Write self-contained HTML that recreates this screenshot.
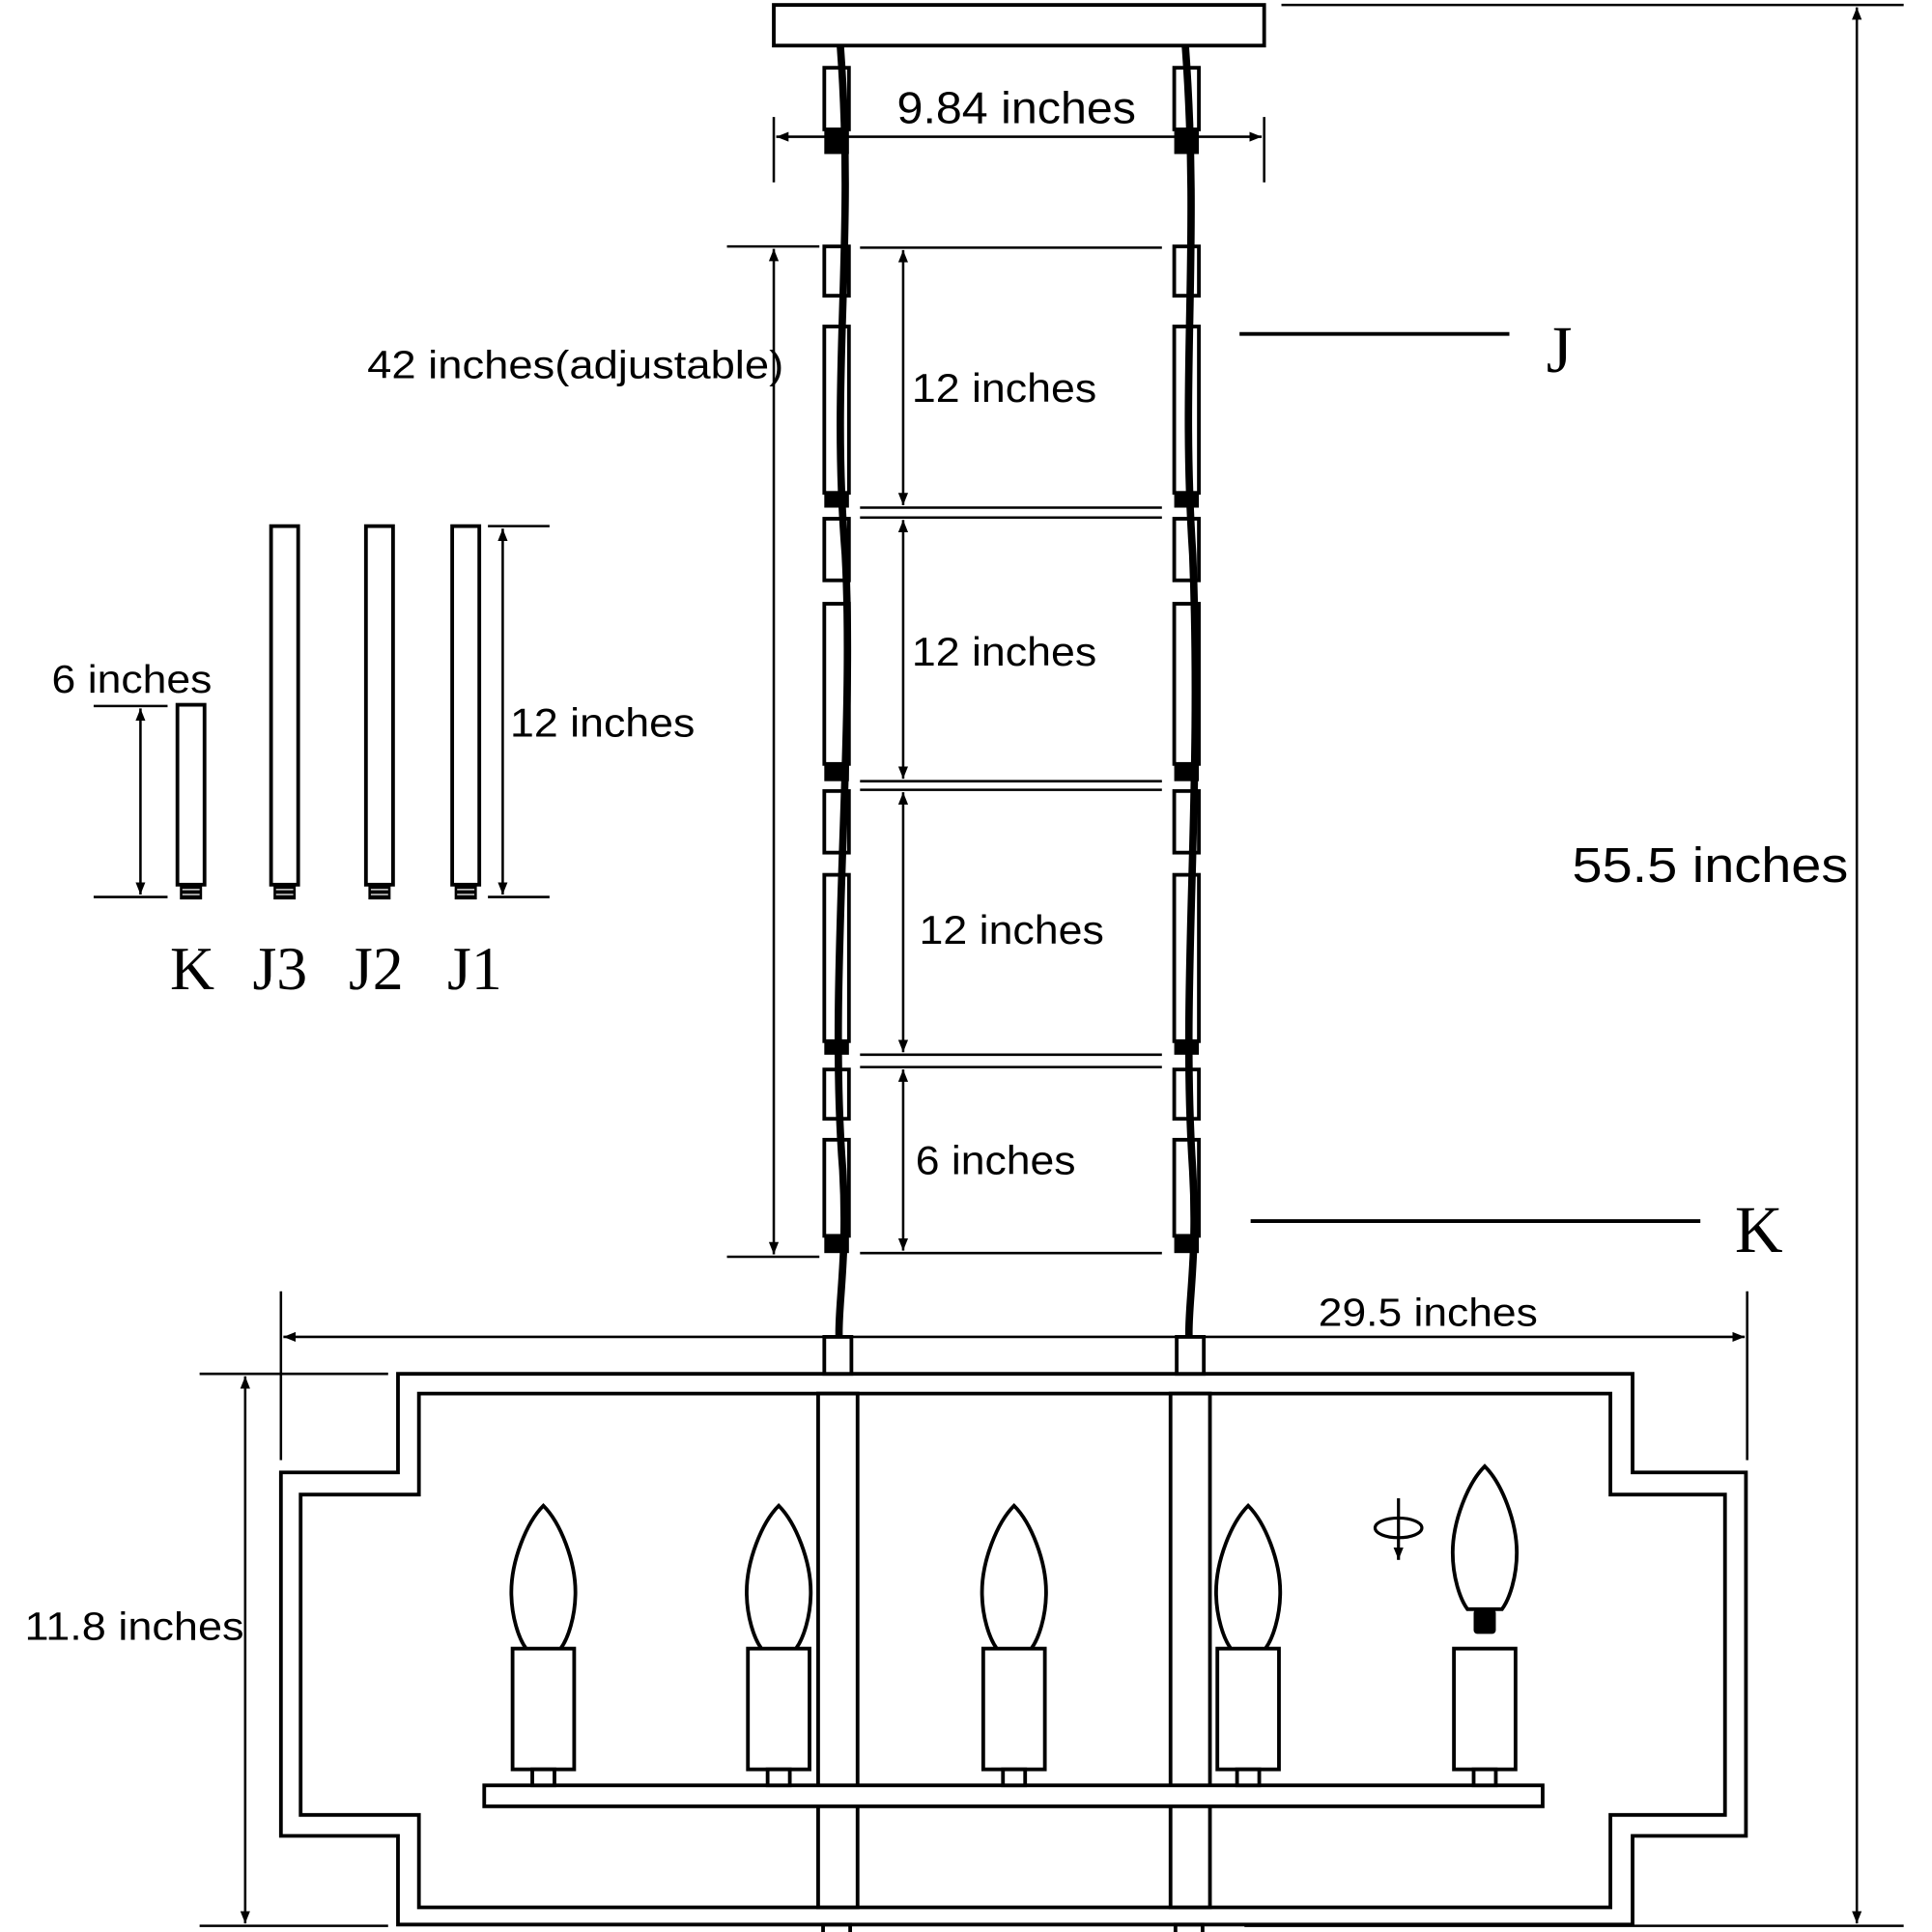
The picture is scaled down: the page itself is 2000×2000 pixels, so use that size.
<!DOCTYPE html>
<html><head><meta charset="utf-8"><style>html,body{margin:0;padding:0;background:#fff}svg{display:block}</style></head>
<body>
<svg width="2000" height="2000" viewBox="0 0 1568 1568" xmlns="http://www.w3.org/2000/svg">
<defs>
<marker id="a" viewBox="0 0 10 10" refX="10" refY="5" markerWidth="10" markerHeight="10" markerUnits="userSpaceOnUse" orient="auto-start-reverse"><path d="M0,1 L10,5 L0,9 z" fill="#000"/></marker>
<g id="bulb"><path d="M0,0 C14,14 26,45 26,70 C26,90 20,108 14,116 L-14,116 C-20,108 -26,90 -26,70 C-26,45 -14,14 0,0 Z" fill="#fff" stroke="#000" stroke-width="3"/></g>
<g id="rod">
<rect x="0" y="0" width="22" height="291" fill="#fff" stroke="#000" stroke-width="3"/>
<rect x="2" y="291" width="18" height="12" fill="#000"/>
<line x1="4" y1="295" x2="18" y2="295" stroke="#fff" stroke-width="1"/>
<line x1="4" y1="299" x2="18" y2="299" stroke="#fff" stroke-width="1"/>
</g>
</defs>
<g fill="none" stroke="#000" stroke-width="2">
<rect x="628" y="4" width="398" height="33" stroke-width="3"/>
<line x1="628" y1="95" x2="628" y2="148"/><line x1="1026" y1="95" x2="1026" y2="148"/>
<line x1="630" y1="111" x2="1024" y2="111" marker-start="url(#a)" marker-end="url(#a)"/>
<line x1="1040" y1="4" x2="1545" y2="4"/><line x1="1010" y1="1563" x2="1545" y2="1563"/>
<line x1="1507" y1="6" x2="1507" y2="1561" marker-start="url(#a)" marker-end="url(#a)"/>
<line x1="590" y1="200" x2="665" y2="200"/><line x1="590" y1="1020" x2="665" y2="1020"/>
<line x1="628" y1="202" x2="628" y2="1018" marker-start="url(#a)" marker-end="url(#a)"/>
<line x1="698" y1="201" x2="943" y2="201"/>
<line x1="698" y1="412" x2="943" y2="412"/><line x1="698" y1="420" x2="943" y2="420"/>
<line x1="698" y1="634" x2="943" y2="634"/><line x1="698" y1="641" x2="943" y2="641"/>
<line x1="698" y1="856" x2="943" y2="856"/><line x1="698" y1="866" x2="943" y2="866"/>
<line x1="698" y1="1017" x2="943" y2="1017"/>
<line x1="733" y1="203" x2="733" y2="410" marker-start="url(#a)" marker-end="url(#a)"/>
<line x1="733" y1="422" x2="733" y2="632" marker-start="url(#a)" marker-end="url(#a)"/>
<line x1="733" y1="643" x2="733" y2="854" marker-start="url(#a)" marker-end="url(#a)"/>
<line x1="733" y1="868" x2="733" y2="1015" marker-start="url(#a)" marker-end="url(#a)"/>
<line x1="1006" y1="271" x2="1225" y2="271" stroke-width="3"/>
<line x1="1015" y1="991" x2="1380" y2="991" stroke-width="3"/>
<line x1="76" y1="573" x2="136" y2="573"/><line x1="76" y1="728" x2="136" y2="728"/>
<line x1="114" y1="575" x2="114" y2="726" marker-start="url(#a)" marker-end="url(#a)"/>
<line x1="396" y1="427" x2="446" y2="427"/><line x1="396" y1="728" x2="446" y2="728"/>
<line x1="408" y1="429" x2="408" y2="726" marker-start="url(#a)" marker-end="url(#a)"/>
<line x1="228" y1="1048" x2="228" y2="1185"/><line x1="1418" y1="1048" x2="1418" y2="1185"/>
<line x1="230" y1="1085" x2="1416" y2="1085" marker-start="url(#a)" marker-end="url(#a)"/>
<line x1="162" y1="1115" x2="315" y2="1115"/><line x1="162" y1="1563" x2="315" y2="1563"/>
<line x1="199" y1="1117" x2="199" y2="1561" marker-start="url(#a)" marker-end="url(#a)"/>
</g>
<g fill="#fff" stroke="#000" stroke-width="3">
<rect x="669" y="55" width="20" height="50"/><rect x="953" y="55" width="20" height="50"/>
<rect x="669" y="200" width="20" height="40"/><rect x="669" y="265" width="20" height="135"/>
<rect x="953" y="200" width="20" height="40"/><rect x="953" y="265" width="20" height="135"/>
<rect x="669" y="421" width="20" height="50"/><rect x="669" y="490" width="20" height="130"/>
<rect x="953" y="421" width="20" height="50"/><rect x="953" y="490" width="20" height="130"/>
<rect x="669" y="642" width="20" height="50"/><rect x="669" y="710" width="20" height="135"/>
<rect x="953" y="642" width="20" height="50"/><rect x="953" y="710" width="20" height="135"/>
<rect x="669" y="868" width="20" height="40"/><rect x="669" y="925" width="20" height="78"/>
<rect x="953" y="868" width="20" height="40"/><rect x="953" y="925" width="20" height="78"/>
</g>
<g fill="#000">
<rect x="669" y="400" width="20" height="12"/><rect x="953" y="400" width="20" height="12"/>
<rect x="669" y="620" width="20" height="14"/><rect x="953" y="620" width="20" height="14"/>
<rect x="669" y="845" width="20" height="11"/><rect x="953" y="845" width="20" height="11"/>
<rect x="669" y="1003" width="20" height="14"/><rect x="953" y="1003" width="20" height="14"/>
<rect x="669" y="105" width="20" height="20"/><rect x="953" y="105" width="20" height="20"/>
</g>
<path d="M682,37 C694,200 674,300 686,450 C694,600 672,800 684,950 C688,1020 680,1060 681,1085" fill="none" stroke="#000" stroke-width="6"/>
<path d="M962,37 C974,200 958,300 968,450 C976,650 958,800 968,950 C972,1020 964,1060 965,1085" fill="none" stroke="#000" stroke-width="6"/>
<rect x="144" y="572" width="22" height="146" fill="#fff" stroke="#000" stroke-width="3"/>
<rect x="146" y="718" width="18" height="12" fill="#000"/>
<line x1="148" y1="722" x2="162" y2="722" stroke="#fff" stroke-width="1"/>
<line x1="148" y1="726" x2="162" y2="726" stroke="#fff" stroke-width="1"/>
<use href="#rod" x="220" y="427"/>
<use href="#rod" x="297" y="427"/>
<use href="#rod" x="367" y="427"/>
<g fill="none" stroke="#000" stroke-width="3">
<path d="M323,1115 H1325 V1195 H1417 V1490 H1325 V1562 H323 V1490 H228 V1195 H323 Z"/>
<path d="M340,1131 H1307 V1213 H1400 V1473 H1307 V1548 H340 V1473 H244 V1213 H340 Z"/>
<rect x="664" y="1131" width="32" height="417" fill="#fff"/>
<rect x="950" y="1131" width="32" height="417" fill="#fff"/>
<rect x="669" y="1085" width="22" height="30" fill="#fff"/>
<rect x="955" y="1085" width="22" height="30" fill="#fff"/>
<rect x="668" y="1562" width="22" height="8"/><rect x="954" y="1562" width="22" height="8"/>
<rect x="393" y="1449" width="859" height="17" fill="#fff"/>
</g>
<g fill="#fff" stroke="#000" stroke-width="3">
<rect x="416" y="1338" width="50" height="98"/><rect x="432" y="1436" width="18" height="13"/>
<rect x="607" y="1338" width="50" height="98"/><rect x="623" y="1436" width="18" height="13"/>
<rect x="798" y="1338" width="50" height="98"/><rect x="814" y="1436" width="18" height="13"/>
<rect x="988" y="1338" width="50" height="98"/><rect x="1004" y="1436" width="18" height="13"/>
<rect x="1180" y="1338" width="50" height="98"/><rect x="1196" y="1436" width="18" height="13"/>
</g>
<use href="#bulb" x="441" y="1222"/><use href="#bulb" x="632" y="1222"/><use href="#bulb" x="823" y="1222"/><use href="#bulb" x="1013" y="1222"/>
<use href="#bulb" x="1205" y="1190"/>
<rect x="1196" y="1306" width="18" height="20" rx="3" fill="#000"/>
<line x1="1135" y1="1216" x2="1135" y2="1266" stroke="#000" stroke-width="2.5" marker-end="url(#a)"/>
<ellipse cx="1135" cy="1240" rx="19" ry="8" fill="none" stroke="#000" stroke-width="2.5"/>
<g font-family="'Liberation Sans', 'DejaVu Sans', sans-serif" fill="#000">
<text x="728" y="100" font-size="36" textLength="194" lengthAdjust="spacingAndGlyphs">9.84 inches</text>
<text x="298" y="307" font-size="32" textLength="338" lengthAdjust="spacingAndGlyphs">42 inches(adjustable)</text>
<text x="740" y="326" font-size="33" textLength="150" lengthAdjust="spacingAndGlyphs">12 inches</text>
<text x="740" y="540" font-size="33" textLength="150" lengthAdjust="spacingAndGlyphs">12 inches</text>
<text x="746" y="766" font-size="33" textLength="150" lengthAdjust="spacingAndGlyphs">12 inches</text>
<text x="743" y="953" font-size="33" textLength="130" lengthAdjust="spacingAndGlyphs">6 inches</text>
<text x="42" y="562" font-size="32" textLength="130" lengthAdjust="spacingAndGlyphs">6 inches</text>
<text x="414" y="598" font-size="33" textLength="150" lengthAdjust="spacingAndGlyphs">12 inches</text>
<text x="1276" y="716" font-size="40" textLength="224" lengthAdjust="spacingAndGlyphs">55.5 inches</text>
<text x="1070" y="1076" font-size="32" textLength="178" lengthAdjust="spacingAndGlyphs">29.5 inches</text>
<text x="20" y="1331" font-size="32" textLength="178" lengthAdjust="spacingAndGlyphs">11.8 inches</text>
</g>
<g font-family="'Liberation Serif', serif" fill="#000" font-size="54">
<text x="1255" y="302">J</text>
<text x="1408" y="1016">K</text>
<text x="138" y="803" font-size="50">K</text>
<text x="205" y="803" font-size="50">J3</text>
<text x="283" y="803" font-size="50">J2</text>
<text x="363" y="803" font-size="50">J1</text>
</g>
</svg>
</body></html>
